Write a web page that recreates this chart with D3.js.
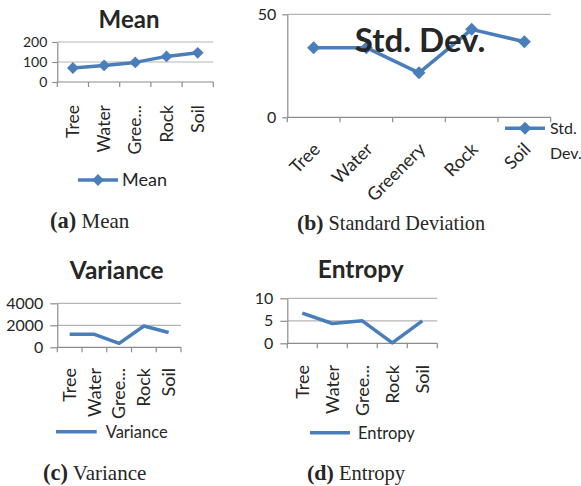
<!DOCTYPE html>
<html>
<head>
<meta charset="utf-8">
<script src="https://cdn.jsdelivr.net/npm/d3@7"></script>
<style>
  body { margin: 0; background: #fff; }
  svg { display: block; }
  text { fill: #262626; }
</style>
</head>
<body>
<script>
var categories = ['Tree', 'Water', 'Greenery', 'Rock', 'Soil'],
  meanValues = [70, 83, 98, 128, 146],
  stdValues = [33.8, 33.8, 21.6, 42.7, 36.7],
  varianceValues = [1180, 1180, 360, 1940, 1340],
  entropyValues = [6.7, 4.4, 5.0, 0.1, 5.0],
  meanTicks = [0, 100, 200],
  stdTicks = [0, 50],
  varianceTicks = [0, 2000, 4000],
  entropyTicks = [0, 5, 10];

var blue = '#4a7ebb',
  chartFont = 'Lato, "Open Sans", sans-serif',
  captionFont = '"Liberation Serif", "DejaVu Serif", serif';

var svg = d3.select('body').append('svg').attr('width', 581).attr('height', 486);

var shortLabel = function(c) {
  return c.length > 6 ? c.slice(0, 4) + '...' : c;
};

var drawPanel = function(cfg) {
  var g = svg.append('g'),
    x = d3.scaleBand().domain(categories).range([cfg.left, cfg.right]),
    y = d3.scaleLinear().domain([0, d3.max(cfg.ticks)]).range([cfg.bottom, cfg.top]),
    cx = function(c) { return x(c) + x.bandwidth() / 2; },
    points = categories.map(function(c, i) { return {c: c, v: cfg.values[i]}; }),
    yAxis, legendG, cap;

  // gridlines
  g.selectAll('line.grid').data(cfg.ticks.slice(1)).join('line')
    .attr('x1', cfg.left).attr('x2', cfg.right)
    .attr('y1', function(d) { return y(d); }).attr('y2', function(d) { return y(d); })
    .attr('stroke', '#b5b5b5').attr('stroke-width', 1.2);

  yAxis = g.append('g').attr('transform', 'translate(' + cfg.left + ',0)')
    .call(d3.axisLeft(y).tickValues(cfg.ticks).tickFormat(d3.format('d'))
      .tickSize(cfg.tickLen).tickSizeOuter(0).tickPadding(cfg.tickPad));
  yAxis.select('.domain').attr('stroke', '#8c8c8c').attr('stroke-width', 1.2);
  yAxis.selectAll('.tick line').attr('stroke', '#8c8c8c').attr('stroke-width', 1.2);
  yAxis.selectAll('.tick text').attr('font-family', chartFont).attr('font-size', cfg.tickSize)
    .attr('fill', '#262626');

  // x axis with ticks between categories
  g.append('line').attr('x1', cfg.left).attr('x2', cfg.right)
    .attr('y1', cfg.bottom).attr('y2', cfg.bottom)
    .attr('stroke', '#8c8c8c').attr('stroke-width', 1.2);
  g.selectAll('line.xtick').data(categories.map(function(c) { return x(c); }).concat([cfg.right])).join('line')
    .attr('x1', function(d) { return d; }).attr('x2', function(d) { return d; })
    .attr('y1', cfg.bottom).attr('y2', cfg.bottom + 5)
    .attr('stroke', '#8c8c8c').attr('stroke-width', 1.2);

  g.selectAll('text.cat').data(categories).join('text')
    .attr('transform', function(c) {
      return 'translate(' + (cx(c) + cfg.labelDx) + ',' + cfg.labelY + ') rotate(' + cfg.labelAngle + ')';
    })
    .attr('text-anchor', 'end').attr('dy', '0.35em')
    .attr('font-family', chartFont).attr('font-size', cfg.labelSize)
    .text(function(c) { return cfg.shorten ? shortLabel(c) : c; });

  g.append('path').datum(points)
    .attr('d', d3.line().x(function(d) { return cx(d.c); }).y(function(d) { return y(d.v); }))
    .attr('fill', 'none').attr('stroke', blue).attr('stroke-width', cfg.lineWidth)
    .attr('stroke-linejoin', 'round');

  if (cfg.markers) {
    g.selectAll('path.marker').data(points).join('path')
      .attr('d', d3.symbol(d3.symbolSquare, cfg.markerSize))
      .attr('transform', function(d) { return 'translate(' + cx(d.c) + ',' + y(d.v) + ') rotate(45)'; })
      .attr('fill', blue);
  }

  g.append('text').attr('x', cfg.titleX).attr('y', cfg.titleY)
    .attr('text-anchor', 'middle').attr('font-family', chartFont).attr('font-weight', 'bold')
    .attr('font-size', cfg.titleSize).attr('fill', '#111').text(cfg.title);

  legendG = g.append('g');
  legendG.append('line').attr('x1', cfg.legend[0]).attr('x2', cfg.legend[1])
    .attr('y1', cfg.legend[2]).attr('y2', cfg.legend[2])
    .attr('stroke', blue).attr('stroke-width', cfg.lineWidth);
  if (cfg.markers) {
    legendG.append('path').attr('d', d3.symbol(d3.symbolSquare, cfg.markerSize))
      .attr('transform', 'translate(' + (cfg.legend[0] + cfg.legend[1]) / 2 + ',' + cfg.legend[2] + ') rotate(45)')
      .attr('fill', blue);
  }
  legendG.selectAll('text').data(cfg.legendLines).join('text')
    .attr('x', cfg.legend[1] + cfg.legendGap)
    .attr('y', function(d, i) { return cfg.legend[2] + 6 + i * 25; })
    .attr('font-family', chartFont).attr('font-size', cfg.legendSize)
    .text(function(d) { return d; });

  cap = g.append('text').attr('x', cfg.caption[0]).attr('y', cfg.caption[1])
    .attr('font-family', captionFont).attr('font-size', cfg.captionSize).attr('fill', '#111');
  cap.append('tspan').attr('font-weight', 'bold').attr('font-size', cfg.captionSize + 1.5).text(cfg.captionTag);
  cap.append('tspan').text(' ' + cfg.captionText);
};

drawPanel({
  values: meanValues, ticks: meanTicks, title: 'Mean',
  left: 57.3, right: 213.3, top: 42, bottom: 82,
  tickLen: 5, tickPad: 5, tickSize: 14, labelSize: 17.5, labelY: 105, labelDx: 0, labelAngle: -90, shorten: true,
  lineWidth: 3.5, markers: true, markerSize: 70,
  titleX: 129, titleY: 28, titleSize: 24,
  legend: [78, 118, 180], legendGap: 4, legendSize: 18, legendLines: ['Mean'],
  caption: [50, 228], captionSize: 21, captionTag: '(a)', captionText: 'Mean'
});

drawPanel({
  values: stdValues, ticks: stdTicks, title: 'Std. Dev.',
  left: 287.3, right: 550.7, top: 14.3, bottom: 117.3,
  tickLen: 5, tickPad: 6, tickSize: 16, labelSize: 18, labelY: 146, labelDx: 3, labelAngle: -45, shorten: false,
  lineWidth: 3.5, markers: true, markerSize: 85,
  titleX: 420, titleY: 52, titleSize: 33,
  legend: [505, 545, 128.3], legendGap: 5, legendSize: 16, legendLines: ['Std.', 'Dev.'],
  caption: [297, 230], captionSize: 20.2, captionTag: '(b)', captionText: 'Standard Deviation'
});

drawPanel({
  values: varianceValues, ticks: varianceTicks, title: 'Variance',
  left: 57.3, right: 181, top: 303.3, bottom: 347.3,
  tickLen: 7, tickPad: 7, tickSize: 16, labelSize: 18, labelY: 368, labelDx: 0, labelAngle: -90, shorten: true,
  lineWidth: 3.5, markers: false,
  titleX: 116.7, titleY: 279, titleSize: 24.5,
  legend: [56, 96.7, 431.7], legendGap: 9, legendSize: 16.5, legendLines: ['Variance'],
  caption: [43, 480], captionSize: 21, captionTag: '(c)', captionText: 'Variance'
});

drawPanel({
  values: entropyValues, ticks: entropyTicks, title: 'Entropy',
  left: 287.3, right: 437.3, top: 298.3, bottom: 343.3,
  tickLen: 7, tickPad: 7, tickSize: 16, labelSize: 18, labelY: 365, labelDx: 0, labelAngle: -90, shorten: true,
  lineWidth: 3.5, markers: false,
  titleX: 360.8, titleY: 278, titleSize: 24.5,
  legend: [310, 350, 432.7], legendGap: 8, legendSize: 16.5, legendLines: ['Entropy'],
  caption: [307, 480], captionSize: 20.5, captionTag: '(d)', captionText: 'Entropy'
});
</script>
</body>
</html>
